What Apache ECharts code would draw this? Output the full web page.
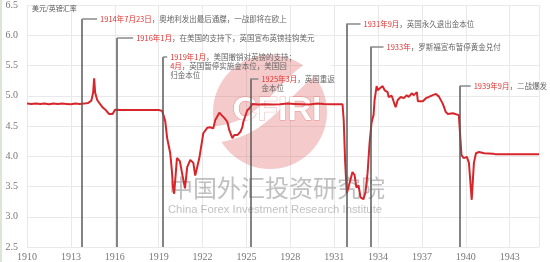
<!DOCTYPE html>
<html>
<head>
<meta charset="utf-8">
<script src="https://cdn.jsdelivr.net/npm/echarts@6/dist/echarts.min.js"></script>
<style>
html,body{margin:0;padding:0;background:#fff;}
#c{width:550px;height:262px;}
</style>
</head>
<body>
<div id="c"></div>
<script>
// ---- data ----
const years = [1910.00,1910.3,1910.6,1910.9,1911.2,1911.5,1911.8,1912.1,1912.4,1912.7,1913.0,1913.3,1913.6,1913.9,
1914.18,1914.4,1914.52,1914.59,1914.66,1914.8,1915.0,1915.2,1915.4,1915.6,1915.85,1916.02,1916.5,1917.0,1917.5,1918.0,1918.5,1919.0,
1919.24,1919.35,1919.45,1919.58,1919.65,1919.79,1919.9,1919.98,1920.06,1920.25,1920.45,1920.6,1920.8,1920.95,1921.16,1921.37,1921.5,1921.57,1921.78,1921.98,
1922.05,1922.32,1922.53,1922.73,1922.87,1923.15,1923.3,1923.5,1923.69,1923.83,1924.04,1924.17,1924.38,1924.58,1924.72,1924.79,1925.06,1925.2,1925.4,
1925.8,1926.3,1926.8,1927.3,1927.8,1928.3,1928.8,1929.3,1929.85,1930.3,1930.8,1931.3,1931.57,1931.65,1931.75,1931.86,1931.98,1932.25,1932.39,1932.52,1932.66,1932.8,
1933.0,1933.14,1933.28,1933.42,1933.55,1933.62,1933.69,1933.76,1933.9,1933.97,1934.1,1934.31,1934.45,1934.65,1934.72,1934.93,1935.07,1935.2,1935.34,1935.55,1935.76,1935.96,
1936.1,1936.3,1936.44,1936.65,1936.72,1937.06,1937.27,1937.47,1937.74,1937.95,1938.15,1938.42,1938.63,1938.77,1939.11,1939.52,1939.62,1939.7,1939.86,1940.07,1940.21,1940.4,
1940.55,1940.69,1940.9,1941.25,1941.86,1942.0,1943.0,1944.0,1945.0];
const rates = [4.87,4.865,4.87,4.865,4.87,4.86,4.87,4.865,4.87,4.865,4.86,4.87,4.865,4.87,
4.88,4.92,5.05,5.29,5.05,4.93,4.86,4.80,4.76,4.70,4.70,4.77,4.765,4.765,4.765,4.765,4.765,4.765,
4.75,4.66,4.58,4.30,4.22,4.05,3.77,3.49,3.38,3.97,3.92,3.72,3.47,3.82,3.94,3.89,3.68,3.69,3.97,4.27,
4.38,4.47,4.48,4.46,4.60,4.72,4.68,4.63,4.57,4.43,4.30,4.35,4.35,4.40,4.48,4.57,4.76,4.79,4.865,
4.855,4.86,4.855,4.86,4.87,4.865,4.86,4.855,4.87,4.865,4.86,4.86,4.86,4.6,3.9,3.39,3.49,3.74,3.69,3.48,3.52,3.32,
3.29,3.41,3.72,4.22,4.55,4.62,4.68,4.93,5.16,5.09,5.06,5.16,5.09,5.06,4.98,5.00,4.90,4.81,4.93,4.98,4.96,5.01,
4.98,5.04,5.01,5.06,4.91,4.91,4.96,4.98,5.01,5.03,4.99,4.87,4.73,4.70,4.71,4.68,4.66,4.02,3.97,3.99,3.89,3.28,
3.89,4.05,4.07,4.05,4.04,4.035,4.035,4.035,4.035];

const yTicks = [2.5,3.0,3.5,4.0,4.5,5.0,5.5,6.0,6.5];
const xTicks = [1910,1913,1916,1919,1922,1925,1928,1931,1934,1937,1940,1943];

// events (annotation lines)
const eventYears = [1913.77,1916.16,1919.31,1925.27,1931.84,1933.48,1939.58];
const eventTops  = [6.27,5.955,5.64,5.28,6.19,5.81,5.16];
const eventEnds  = [1914.79,1917.26,1919.58,1925.82,1932.80,1934.37,1940.33];
const eventDates = ['1914年7月23日','1916年1月','1919年1月','1925年3月','1931年9月','1933年','1939年9月'];
const eventTexts = [
  '，奥地利发出最后通牒，一战即将在欧上',
  '，在美国的支持下，英国宣布英镑挂钩美元',
  '，美国撤销对英镑的支持；\n{r|4月}，英国暂停实施金本位，美国回\n归金本位',
  '，英国重返\n金本位',
  '，英国永久退出金本位',
  '，罗斯福宣布暂停黄金兑付',
  '，二战爆发'
];

const titleText = '美元/英镑汇率';
const wmCn = '中国外汇投资研究院';
const wmEn = 'China Forex Investment Research Institute';

const chart = echarts.init(document.getElementById('c'), null, {renderer:'canvas'});

const vLines = eventYears.map((x,i)=>[{coord:[x, yTicks[0]]},{coord:[x, eventTops[i]]}]);
const hLines = eventYears.map((x,i)=>[{coord:[x, eventTops[i]]},{coord:[eventEnds[i], eventTops[i]]}]);

const labelFont = 'Liberation Serif, DejaVu Serif, serif';

chart.setOption({
  animation:false,
  backgroundColor:'#fff',
  grid:{left:27,right:11,top:5,bottom:15},
  xAxis:{
    type:'value', min:xTicks[0], max:1945, interval:3,
    axisLine:{show:false}, axisTick:{show:false},
    axisLabel:{color:'#777', fontSize:10, fontFamily:labelFont, margin:5, showMaxLabel:false,
      formatter:v=>xTicks.includes(v)?String(v):''},
    splitLine:{show:true, lineStyle:{color:'#e9e9e9', width:1}}
  },
  yAxis:{
    type:'value', min:yTicks[0], max:yTicks[yTicks.length-1], interval:0.5,
    axisLine:{show:false}, axisTick:{show:false},
    axisLabel:{color:'#777', fontSize:10, fontFamily:labelFont, margin:9, formatter:v=>v.toFixed(1)},
    splitLine:{show:true, lineStyle:{color:'#e9e9e9', width:1}}
  },
  series:[
    {
      type:'line', data:years.map((y,i)=>[y,rates[i]]), showSymbol:false, z:3,
      lineStyle:{color:'#d7262b', width:2}, smooth:false,
      markLine:{silent:true, symbol:'none', animation:false, label:{show:false},
        lineStyle:{color:'#5a5a5a', width:1.5, type:'solid'}, data:vLines}
    },
    {
      type:'line', data:[], z:4,
      markLine:{silent:true, symbol:'none', animation:false, label:{show:false},
        lineStyle:{color:'#8a8a8a', width:1.5, type:'solid'}, data:hLines}
    }
  ]
});

const gfx = [];
// left edge strip
gfx.push({type:'rect', shape:{x:0,y:0,width:2,height:262}, style:{fill:'#dbe6d6'}, z:0, silent:true});
// logo watermark
gfx.push({type:'circle', shape:{cx:270,cy:112,r:57}, style:{fill:'rgba(222,90,90,0.32)'}, z:1, silent:true});
gfx.push({type:'bezierCurve', shape:{x1:330,y1:62,cpx1:285,cpy1:70,cpx2:275,cpy2:135,x2:205,y2:135}, style:{stroke:'#fff',lineWidth:16,fill:null}, z:1, silent:true});
gfx.push({type:'text', x:277, y:111, style:{text:'CFIRI', fill:'#fff', stroke:'rgba(222,90,90,0.5)', lineWidth:1, font:'bold 34px Arial, Liberation Sans, sans-serif', align:'center', verticalAlign:'middle'}, z:2, silent:true});
gfx.push({type:'text', x:277, y:188, style:{text:wmCn, fill:'rgba(140,140,140,0.55)', font:'24px "Noto Sans CJK SC", sans-serif', align:'center', verticalAlign:'middle'}, z:2, silent:true});
gfx.push({type:'text', x:275, y:210, style:{text:wmEn, fill:'rgba(140,140,140,0.55)', font:'11.3px "Liberation Sans", Arial, sans-serif', align:'center', verticalAlign:'middle'}, z:2, silent:true});
// title
const tp = chart.convertToPixel({gridIndex:0},[years[0], yTicks[yTicks.length-1]]);
gfx.push({type:'text', x:tp[0]+5, y:tp[1]+3, style:{text:titleText, fill:'#555', font:'7px "Noto Sans CJK SC", sans-serif', align:'left', verticalAlign:'middle'}, z:10});
// annotation texts
eventYears.forEach((x,i)=>{
  const p = chart.convertToPixel({gridIndex:0},[eventEnds[i], eventTops[i]]);
  gfx.push({type:'text', x:p[0]+3, y:p[1]-4.5, z:10, silent:true,
    style:{text:'{r|'+eventDates[i]+'}'+eventTexts[i], fill:'#666', fontSize:7.5,
      fontFamily:'"Noto Sans CJK SC", sans-serif', lineHeight:9, align:'left', verticalAlign:'top',
      rich:{r:{fill:'#e0302f', fontSize:7.5, fontFamily:'"Noto Sans CJK SC", sans-serif', lineHeight:9}}}});
});
chart.setOption({graphic:gfx});
</script>
</body>
</html>
